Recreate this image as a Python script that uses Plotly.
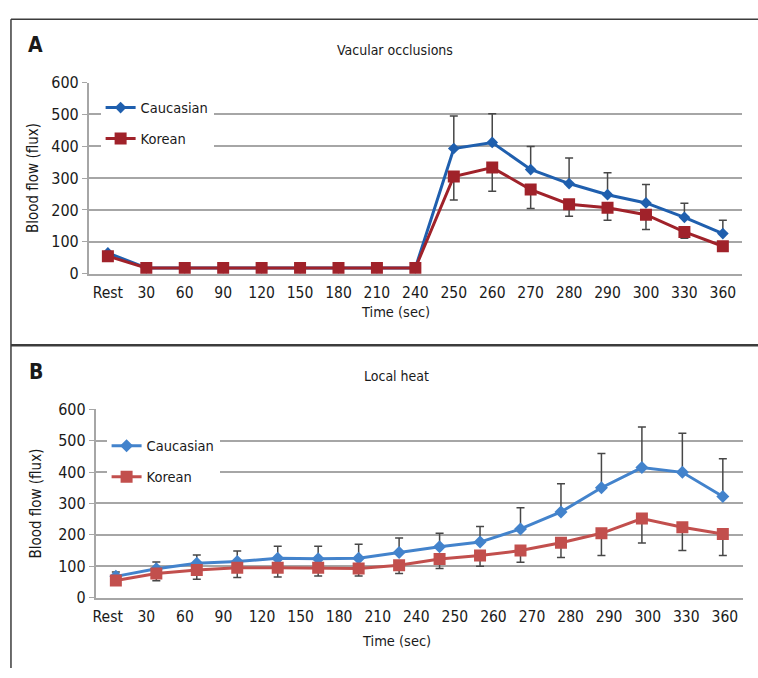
import numpy as np
import plotly.graph_objects as go

# Sampling times shown on both x axes
time_labels = ["Rest", "30", "60", "90", "120", "150", "180", "210", "240",
               "250", "260", "270", "280", "290", "300", "330", "360"]

# Panel A: vascular occlusion (mean flux and one-sided SD)
occ_caucasian = [65, 18, 18, 18, 18, 18, 18, 18, 18, 393, 412, 327, 283, 248, 222, 177, 126]
occ_caucasian_sd = [0, 0, 0, 0, 0, 0, 0, 0, 0, 102, 90, 72, 80, 69, 58, 44, 42]
occ_korean = [55, 18, 18, 18, 18, 18, 18, 18, 18, 305, 333, 264, 218, 207, 185, 131, 86]
occ_korean_sd = [0, 0, 0, 0, 0, 0, 0, 0, 0, 74, 74, 59, 38, 39, 46, 20, 8]

# Panel B: local heating (16 recorded samples)
heat_caucasian = [68, 92, 110, 115, 126, 124, 126, 144, 162, 177, 219, 273, 350, 414, 399, 322]
heat_caucasian_sd = [14, 22, 26, 34, 38, 40, 44, 46, 43, 50, 67, 90, 109, 129, 124, 120]
heat_korean = [55, 77, 88, 95, 95, 95, 93, 103, 123, 134, 150, 175, 205, 252, 224, 203]
heat_korean_sd = [0, 23, 29, 31, 29, 26, 24, 26, 30, 34, 37, 47, 71, 78, 74, 69]

W, H = 758, 678
FONT = "Liberation Sans Narrow, DejaVu Sans Condensed, Arial Narrow, sans-serif"
TXT = "#1a1a1a"
GRID = "#a6a6a6"
ERR = "#474747"


def fx(p):
    return p / W


def fy(p):
    return 1 - p / H


def err(up, down):
    return dict(type="data", symmetric=False, array=up, arrayminus=down,
                color=ERR, thickness=1.5, width=4)


fig = go.Figure()

nA = len(occ_caucasian)
xa = list(range(nA))
fig.add_trace(go.Scatter(
    x=xa, y=occ_caucasian, name="Caucasian", mode="lines+markers",
    line=dict(color="#1f5fae", width=3),
    marker=dict(symbol="diamond", size=9, color="#1f5fae"),
    error_y=err(occ_caucasian_sd, [0] * nA),
    xaxis="x", yaxis="y", legend="legend", legendgroup="ac"))
fig.add_trace(go.Scatter(
    x=xa, y=occ_korean, name="Korean", mode="lines+markers",
    line=dict(color="#a0222a", width=3),
    marker=dict(symbol="square", size=12, color="#a0222a"),
    error_y=err([0] * nA, occ_korean_sd),
    xaxis="x", yaxis="y", legend="legend", legendgroup="ak"))

nB = len(heat_caucasian)
xb = list(range(nB))
fig.add_trace(go.Scatter(
    x=xb, y=heat_caucasian, name="Caucasian", mode="lines+markers",
    line=dict(color="#4383cc", width=3),
    marker=dict(symbol="diamond", size=10, color="#4383cc"),
    error_y=err(heat_caucasian_sd, [0] * nB),
    xaxis="x2", yaxis="y2", legend="legend2", legendgroup="bc"))
fig.add_trace(go.Scatter(
    x=xb, y=heat_korean, name="Korean", mode="lines+markers",
    line=dict(color="#c24f4d", width=3),
    marker=dict(symbol="square", size=12, color="#c24f4d"),
    error_y=err([0] * nB, heat_korean_sd),
    xaxis="x2", yaxis="y2", legend="legend2", legendgroup="bk"))

xcommon = dict(showgrid=False, zeroline=False, showline=True, linecolor=GRID,
               linewidth=1.5, ticks="outside", ticklen=4,
               tickcolor="rgba(0,0,0,0)", tickfont=dict(size=15.5, color=TXT))
ycommon = dict(range=[0, 600], dtick=100, showgrid=True, gridcolor=GRID,
               gridwidth=1.5, zeroline=False, showline=True, linecolor=GRID,
               linewidth=1.5, ticks="outside", ticklen=5, tickcolor=GRID,
               tickfont=dict(size=16, color=TXT))

# Tick labels of panel B are spread evenly across its 16 sample slots
tick_b = np.linspace(-0.2, 15.05, len(time_labels)).tolist()

legend_common = dict(bgcolor="white", borderwidth=0, xanchor="left",
                     yanchor="top", font=dict(size=14.5, color=TXT),
                     tracegroupgap=9, itemwidth=30)

fig.update_layout(
    width=W, height=H, margin=dict(l=0, r=0, t=0, b=0),
    paper_bgcolor="white", plot_bgcolor="white",
    font=dict(family=FONT, color=TXT),
    xaxis=dict(domain=[fx(86), fx(742)], anchor="y", range=[-0.5, nA - 0.5],
               tickvals=xa, ticktext=time_labels, **xcommon),
    yaxis=dict(domain=[fy(272.3), fy(75.7)], anchor="x", **ycommon),
    xaxis2=dict(domain=[fx(93), fx(743)], anchor="y2", range=[-0.5, nB - 0.5],
                tickvals=tick_b, ticktext=time_labels, **xcommon),
    yaxis2=dict(domain=[fy(605.7), fy(411.7)], anchor="x2", **ycommon),
    legend=dict(x=fx(98), y=fy(85), **legend_common),
    legend2=dict(x=fx(104), y=fy(433), **legend_common),
)

# Panel frames
frame = dict(type="line", xref="paper", yref="paper",
             line=dict(color="#3c3c3c", width=1.5))
fig.add_shape(x0=fx(8), x1=1, y0=fy(10.5), y1=fy(10.5), **frame)
fig.add_shape(x0=fx(8), x1=1, y0=fy(346), y1=fy(346),
              **{**frame, "line": dict(color="#3c3c3c", width=2.5)})
fig.add_shape(x0=fx(8), x1=fx(8), y0=fy(10.5), y1=0, **frame)

notes = [
    ("<b>A</b>", 33, 37, 21, 0),
    ("<b>B</b>", 33, 373, 21, 0),
    ("Vacular occlusions", 394, 42, 14, 0),
    ("Local heat", 395, 378, 14, 0),
    ("Time (sec)", 394, 312, 14.5, 0),
    ("Time (sec)", 395, 650, 14.5, 0),
    ("Blood flow (flux)", 30, 174, 15, -90),
    ("Blood flow (flux)", 33, 509, 15, -90),
]
for text, x, y, size, ang in notes:
    fig.add_annotation(text=text, x=fx(x), y=fy(y), xref="paper", yref="paper",
                       showarrow=False, textangle=ang, xanchor="center",
                       yanchor="middle", font=dict(size=size, color=TXT))

fig.write_html("out.html")
